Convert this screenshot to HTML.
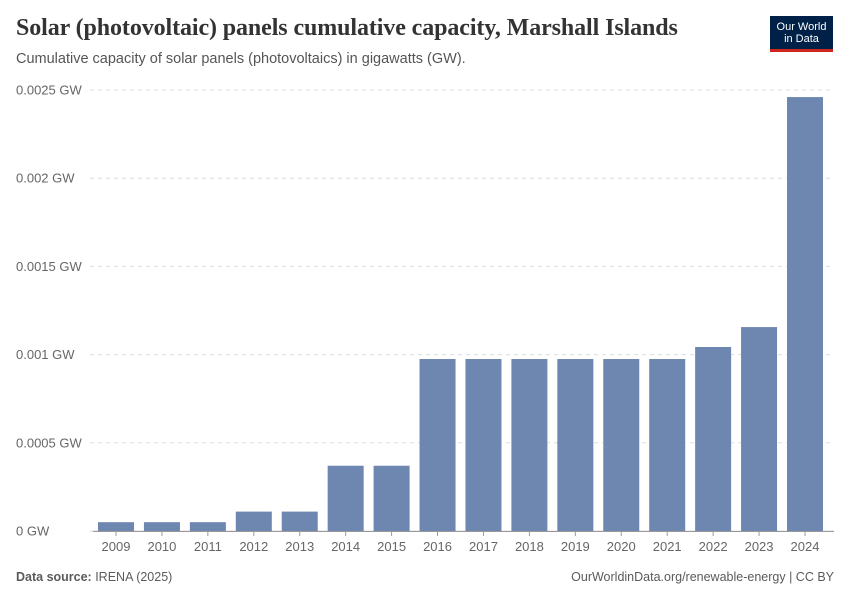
<!DOCTYPE html>
<html><head><meta charset="utf-8">
<style>
body{margin:0;background:#fff;font-family:"Liberation Sans",sans-serif;}
#wrap{position:relative;width:850px;height:600px;overflow:hidden;}
.title{position:absolute;left:16px;top:15px;font-family:"Liberation Serif",serif;font-size:24px;color:#333;font-weight:bold;letter-spacing:-0.1px;}
.sub{position:absolute;left:16px;top:51px;font-size:14.5px;color:#555;}
.logo{position:absolute;left:770px;top:16px;width:63px;height:36px;background:#002147;color:#fff;font-size:11px;text-align:center;line-height:12px;padding-top:5px;box-sizing:border-box;border-bottom:3px solid #ce261e;}
.foot{position:absolute;top:570px;font-size:12.5px;color:#5b5b5b;}
</style></head><body>
<div id="wrap">
<div class="title">Solar (photovoltaic) panels cumulative capacity, Marshall Islands</div>
<div class="sub">Cumulative capacity of solar panels (photovoltaics) in gigawatts (GW).</div>
<div class="logo">Our World<br>in Data</div>
<svg id="chart" width="850" height="600" style="position:absolute;left:0;top:0"></svg>
<div class="foot" style="left:16px"><b>Data source:</b> IRENA (2025)</div>
<div class="foot" style="right:16px">OurWorldinData.org/renewable-energy | CC BY</div>
</div>
<script>
const years=["2009","2010","2011","2012","2013","2014","2015","2016","2017","2018","2019","2020","2021","2022","2023","2024"];
const values=[0.00005,0.00005,0.00005,0.00011,0.00011,0.00037,0.00037,0.000975,0.000975,0.000975,0.000975,0.000975,0.000975,0.001043,0.001156,0.00246];
const ticks=[0,0.0005,0.001,0.0015,0.002,0.0025];
const tickLabels=["0 GW","0.0005 GW","0.001 GW","0.0015 GW","0.002 GW","0.0025 GW"];
const svg=document.getElementById('chart');
const NS='http://www.w3.org/2000/svg';
const y0=531,yTop=90,yMax=0.0025;
const y=v=>y0-(v/yMax)*(y0-yTop);
const x0=116,xEnd=805;
const x=i=>x0+i*(xEnd-x0)/(years.length-1);
const bw=36;
function mk(t,a){const e=document.createElementNS(NS,t);for(const k in a)e.setAttribute(k,a[k]);svg.appendChild(e);return e;}
ticks.forEach((t,i)=>{
  const l=mk('line',{x1:90,x2:834,y1:y(t),y2:y(t),stroke:'#ddd','stroke-dasharray':i?'4,4':'none'});
  
  
  const tx=mk('text',{x:16,y:y(t)+4.5,'font-size':13,fill:'#666','font-family':'Liberation Sans, sans-serif'});
  tx.textContent=tickLabels[i];
  
  
});
const ax=mk('line',{x1:93,x2:834,y1:y0+0.5,y2:y0+0.5,stroke:'#999'});


years.forEach((yr,i)=>{
  const r=mk('rect',{x:x(i)-bw/2,y:y(values[i]),width:bw,height:y0-y(values[i]),fill:'#6d87b0'});
  
  
  const tk=mk('line',{x1:x(i),x2:x(i),y1:y0,y2:y0+5,stroke:'#999'});
  
  
  const t=mk('text',{x:x(i),y:551,'font-size':13,fill:'#666','text-anchor':'middle','font-family':'Liberation Sans, sans-serif'});
  t.textContent=yr;
  
  
});
</script>
</body></html>
